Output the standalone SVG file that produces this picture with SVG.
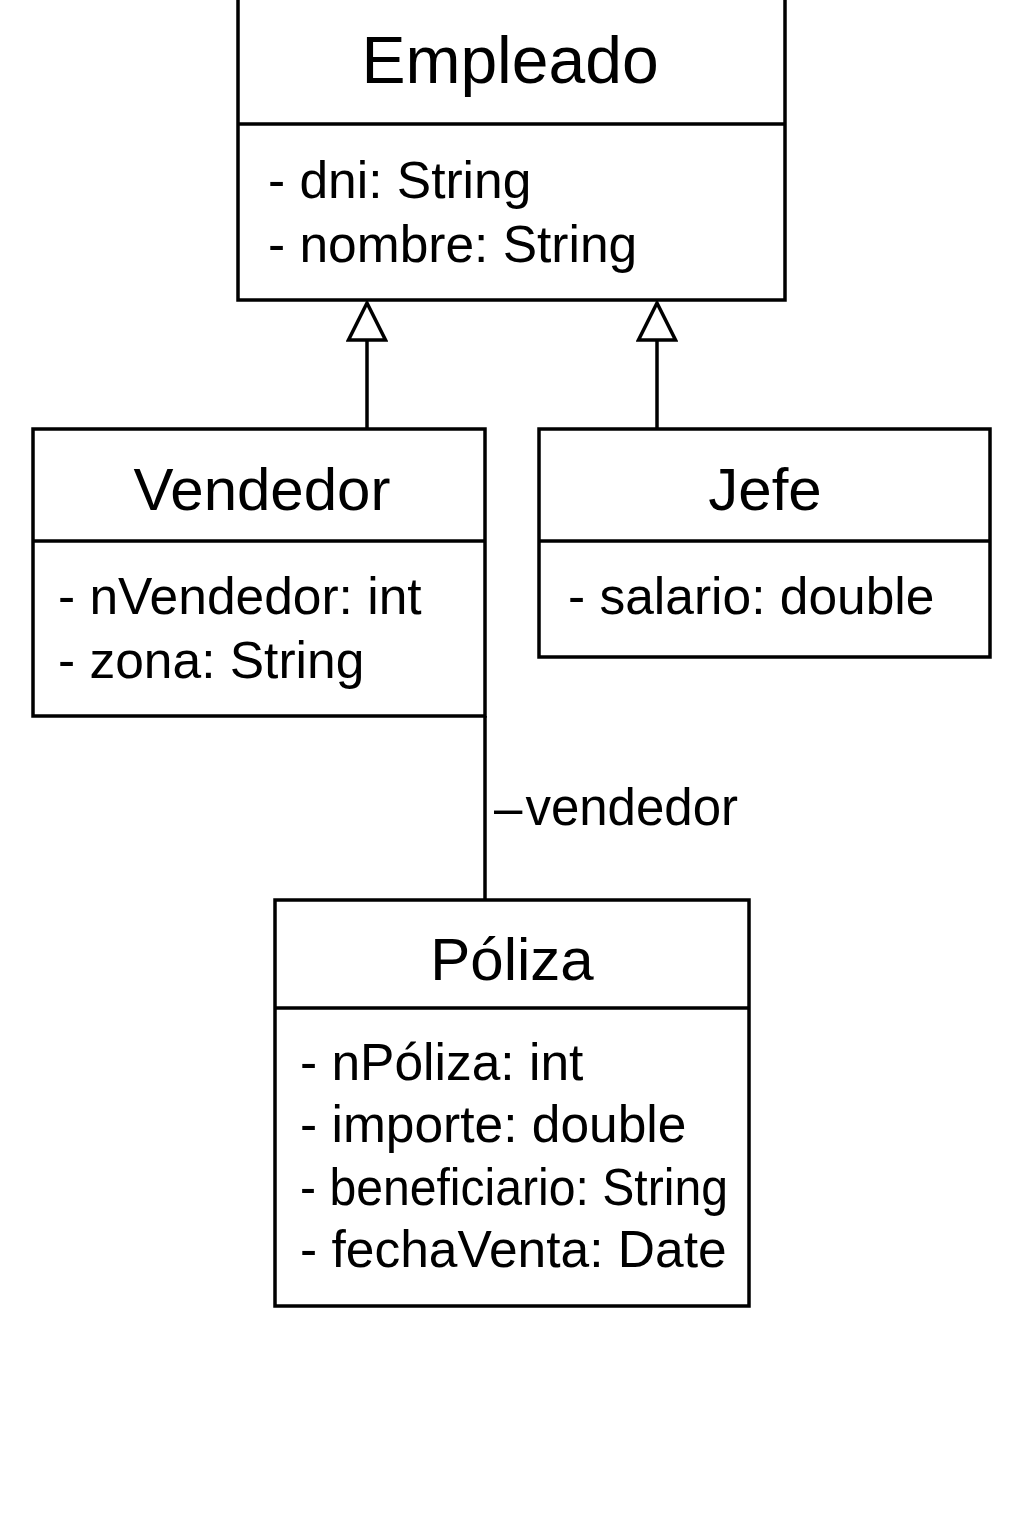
<svg xmlns="http://www.w3.org/2000/svg" width="1024" height="1536" viewBox="0 0 1024 1536">
<style>
.box{fill:#fff;stroke:#000;stroke-width:3.5}
.ln{stroke:#000;stroke-width:3.5;fill:none}
text{font-family:"Liberation Sans",Arial,sans-serif;fill:#000}
.t{font-size:60px;text-anchor:middle}
.a{font-size:51.5px}
</style>
<defs>
<marker id="gen" markerWidth="42" markerHeight="42" refX="39" refY="21" orient="auto" markerUnits="userSpaceOnUse" viewBox="0 0 42 42">
<path d="M39,21 L2,2.5 L2,39.5 Z" fill="#fff" stroke="#000" stroke-width="3.5" stroke-linejoin="miter"/>
</marker>
</defs>
<rect width="1024" height="1536" fill="#fff"/>
<g id="connectors">
<line class="ln" x1="367" y1="428" x2="367" y2="303" marker-end="url(#gen)"/>
<line class="ln" x1="657" y1="428" x2="657" y2="303" marker-end="url(#gen)"/>
<line class="ln" x1="485" y1="716" x2="485" y2="900"/>
<text x="494" y="825" style="font-size:51px">–<tspan dx="3">vendedor</tspan></text>
</g>
<g id="Empleado">
<rect class="box" x="238" y="-10" width="547" height="310"/>
<line class="ln" x1="238" y1="124" x2="785" y2="124"/>
<text class="t" x="510" y="83" style="font-size:66px">Empleado</text>
<text class="a" x="268" y="198">- dni: String</text>
<text class="a" x="268" y="262">- nombre: String</text>
</g>
<g id="Vendedor">
<rect class="box" x="33" y="429" width="452" height="287"/>
<line class="ln" x1="33" y1="541" x2="485" y2="541"/>
<text class="t" x="262" y="510">Vendedor</text>
<text class="a" x="58" y="614">- nVendedor: int</text>
<text class="a" x="58" y="678">- zona: String</text>
</g>
<g id="Jefe">
<rect class="box" x="539" y="429" width="451" height="228"/>
<line class="ln" x1="539" y1="541" x2="990" y2="541"/>
<text class="t" x="765" y="510">Jefe</text>
<text class="a" x="568" y="614">- salario: double</text>
</g>
<g id="Poliza">
<rect class="box" x="275" y="900" width="474" height="406"/>
<line class="ln" x1="275" y1="1008" x2="749" y2="1008"/>
<text class="t" x="512" y="980">Póliza</text>
<text class="a" x="300" y="1080">- nPóliza: int</text>
<text class="a" x="300" y="1142">- importe: double</text>
<text class="a" x="300" y="1205" textLength="428" lengthAdjust="spacingAndGlyphs">- beneficiario: String</text>
<text class="a" x="300" y="1267">- fechaVenta: Date</text>
</g>
</svg>
